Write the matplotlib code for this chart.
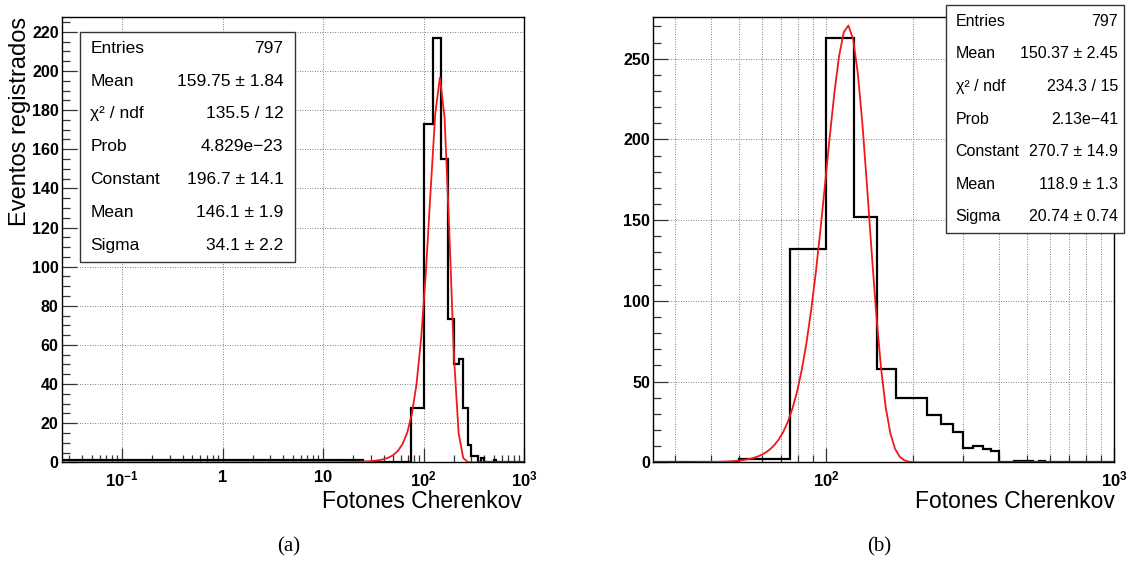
import numpy as np
import matplotlib
matplotlib.use("Agg")
import matplotlib.pyplot as plt
from matplotlib.patches import Rectangle
from matplotlib.ticker import FixedLocator, FixedFormatter, LogLocator, MultipleLocator, NullFormatter

plt.rcParams['font.family'] = ['Liberation Sans', 'DejaVu Sans']
plt.rcParams['mathtext.fontset'] = 'custom'
plt.rcParams['mathtext.rm'] = 'Liberation Sans:bold'
plt.rcParams['mathtext.it'] = 'Liberation Sans:bold'
plt.rcParams['mathtext.bf'] = 'Liberation Sans:bold'

# 40 bins of 25 photons between 0 and 1000
bin_edges = np.arange(0, 1001, 25)

counts_a = [1, 0, 0, 28, 173, 217, 155, 73, 50, 53, 28, 9, 3, 3, 0, 2,
            0, 0, 0, 0, 1] + [0] * 19
counts_b = [0, 0, 2, 132, 263, 152, 58, 40, 40, 29, 24, 19, 9, 10, 8, 7,
            0, 0, 1, 1, 1, 0, 1] + [0] * 17

# gaussian fit results: constant, mean, sigma (and errors)
fit_a = [196.7, 146.1, 34.1]
fit_a_err = [14.1, 1.9, 2.2]
fit_b = [270.7, 118.9, 20.74]
fit_b_err = [14.9, 1.3, 0.74]

stats_a = [("Entries", "797"), ("Mean", "159.75 ± 1.84"),
           ("χ² / ndf", "135.5 / 12"), ("Prob", "4.829e−23")]
stats_b = [("Entries", "797"), ("Mean", "150.37 ± 2.45"),
           ("χ² / ndf", "234.3 / 15"), ("Prob", "2.13e−41")]

xlim_a = (0.025, 1000)
xlim_b = (25, 1000)
xticks_a = [0.1, 1, 10, 100, 1000]
xlabels_a = [r'$10^{-1}$', r'$1$', r'$10$', r'$10^{2}$', r'$10^{3}$']
xticks_b = [100, 1000]
xlabels_b = [r'$10^{2}$', r'$10^{3}$']

W, H = 1128, 561
fig = plt.figure(figsize=(W / 100, H / 100), dpi=100)


def px_rect(x0, y0, x1, y1):
    return [x0 / W, 1 - y1 / H, (x1 - x0) / W, (y1 - y0) / H]


def gauss(x, p):
    return p[0] * np.exp(-0.5 * ((x - p[1]) / p[2]) ** 2)


def fmt_err(v, e, nd):
    return f"{v:.{nd}f} ± {e:.{nd}f}"


def draw_panel(ax, counts, fit, xlim, ymajor, yminor, xticks, xlabels, minor_grid):
    edges = bin_edges.astype(float)
    edges[0] = 1e-4  # lower edge of first bin sits left of the log axis
    ax.stairs(counts, edges, color='black', lw=1.6, zorder=3)

    xs = np.geomspace(xlim[0], xlim[1], 100)
    ax.plot(xs, gauss(xs, fit), color='#f01818', lw=1.3, zorder=4)

    ax.set_xscale('log')
    ax.set_xlim(*xlim)
    ax.set_ylim(0, max(counts) * 1.05)

    ax.xaxis.set_major_locator(FixedLocator(xticks))
    ax.xaxis.set_major_formatter(FixedFormatter(xlabels))
    ax.xaxis.set_minor_locator(LogLocator(base=10, subs=np.arange(2, 10)))
    ax.xaxis.set_minor_formatter(NullFormatter())
    ax.yaxis.set_major_locator(MultipleLocator(ymajor))
    ax.yaxis.set_minor_locator(MultipleLocator(yminor))

    grid_kw = dict(color='#555555', lw=0.6, ls=(0, (1, 2)))
    ax.yaxis.grid(True, which='major', **grid_kw)
    ax.xaxis.grid(True, which='major', **grid_kw)
    if minor_grid:
        ax.xaxis.grid(True, which='minor', **grid_kw)
    ax.set_axisbelow(True)

    ax.tick_params(which='both', direction='in', top=False, right=False,
                   color='#333333', width=0.9)
    ax.tick_params(axis='y', which='major', length=11, pad=2, labelsize=11.5)
    ax.tick_params(axis='y', which='minor', length=5.5)
    ax.tick_params(axis='x', which='major', length=10, pad=5, labelsize=12)
    ax.tick_params(axis='x', which='minor', length=5)
    for lab in ax.get_yticklabels():
        lab.set_fontweight('bold')
    for sp in ax.spines.values():
        sp.set_linewidth(1.0)
        sp.set_color('black')


def stats_box(x0, y0, x1, y1, rows, tx0, tx1, size):
    fig.add_artist(Rectangle((x0 / W, 1 - y1 / H), (x1 - x0) / W, (y1 - y0) / H,
                             transform=fig.transFigure, facecolor='white',
                             edgecolor='#333333', lw=1.0, zorder=10))
    rh = (y1 - y0) / len(rows)
    for i, (name, val) in enumerate(rows):
        yc = 1 - (y0 + rh * (i + 0.5)) / H
        fig.text(tx0 / W, yc, name, ha='left', va='center', fontsize=size, zorder=11)
        fig.text(tx1 / W, yc, val, ha='right', va='center', fontsize=size, zorder=11)


ax_a = fig.add_axes(px_rect(61.5, 16.5, 524, 462.3))
draw_panel(ax_a, counts_a, fit_a, xlim_a, 20, 5, xticks_a, xlabels_a, False)

ax_b = fig.add_axes(px_rect(652.7, 16.5, 1114, 462.3))
draw_panel(ax_b, counts_b, fit_b, xlim_b, 50, 10, xticks_b, xlabels_b, True)

rows_a = stats_a + [("Constant", fmt_err(fit_a[0], fit_a_err[0], 1)),
                    ("Mean", fmt_err(fit_a[1], fit_a_err[1], 1)),
                    ("Sigma", fmt_err(fit_a[2], fit_a_err[2], 1))]
rows_b = stats_b + [("Constant", fmt_err(fit_b[0], fit_b_err[0], 1)),
                    ("Mean", fmt_err(fit_b[1], fit_b_err[1], 1)),
                    ("Sigma", fmt_err(fit_b[2], fit_b_err[2], 2))]
stats_box(80, 31.7, 295, 262, rows_a, 90.5, 283.5, 12.5)
stats_box(946, 5, 1124, 233, rows_b, 955.6, 1118, 11.5)

fig.text(20 / W, 1 - 17 / H, "Eventos registrados", rotation=90,
         ha='center', va='top', fontsize=17)
fig.text(522 / W, 1 - 502 / H, "Fotones Cherenkov", ha='right', va='center', fontsize=16.5)
fig.text(1115 / W, 1 - 502 / H, "Fotones Cherenkov", ha='right', va='center', fontsize=16.5)

fig.text(289 / W, 1 - 547 / H, "(a)", ha='center', va='center',
         family='Liberation Serif', fontsize=15)
fig.text(879 / W, 1 - 547 / H, "(b)", ha='center', va='center',
         family='Liberation Serif', fontsize=15)

fig.savefig("out.png", dpi=100)
plt.close(fig)
